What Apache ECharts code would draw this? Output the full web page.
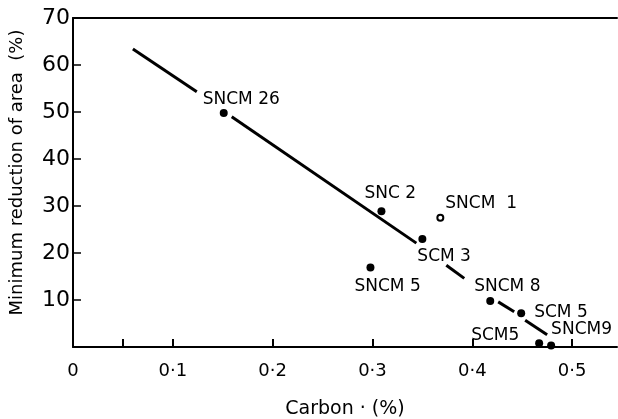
<!DOCTYPE html>
<html>
<head>
<meta charset="utf-8">
<script src="https://cdn.jsdelivr.net/npm/echarts@6/dist/echarts.min.js"></script>
<style>html,body{margin:0;padding:0;background:#fff}#c{width:618px;height:419px}</style>
</head>
<body>
<div id="c"></div>
<script>
// Steels: [carbon %, minimum reduction of area %]
const steelNames = ['SNCM 26', 'SNC 2', 'SNCM  1', 'SCM 3', 'SNCM 5', 'SNCM 8', 'SCM 5', 'SCM5', 'SNCM9'];
const carbon = [0.151, 0.309, 0.368, 0.350, 0.298, 0.418, 0.449, 0.467, 0.479];
const reduction = [49.8, 28.9, 27.5, 23.0, 16.9, 9.8, 7.2, 0.8, 0.3];
const openMarker = [false, false, true, false, false, false, false, false, false];
// label offsets relative to point (px)
const labelDx = [-21, -17, 6, -5, -16, -16, 13, -68, 0];
const labelDy = [-13, -18, -13, 18, 19, -14, -1, -8, -16];

// trend line, drawn in broken segments
const trendSegments = [
  [[0.060, 63.4], [0.124, 54.3]],
  [[0.159, 49.0], [0.344, 22.1]],
  [[0.374, 17.4], [0.392, 14.6]],
  [[0.426, 9.6], [0.442, 7.5]],
  [[0.453, 5.7], [0.475, 2.6]]
];

const xTicks = [0, 0.1, 0.2, 0.3, 0.4, 0.5];
const xTickMarks = [0.05, 0.1, 0.2, 0.3, 0.4, 0.5];
const yTicks = [10, 20, 30, 40, 50, 60, 70];

const font = 'DejaVu Sans';
const chart = echarts.init(document.getElementById('c'));

const series = [];
trendSegments.forEach(seg => {
  series.push({
    type: 'line', data: seg, symbol: 'none', silent: true,
    lineStyle: {color: '#000', width: 3}, z: 2
  });
});
const SYM = 8;
series.push({
  type: 'scatter',
  z: 3,
  itemStyle: {opacity: 1},
  data: carbon.map((c, i) => ({
    value: [c, reduction[i]],
    symbol: openMarker[i] ? 'emptyCircle' : 'circle',
    symbolSize: openMarker[i] ? 6 : SYM,
    itemStyle: openMarker[i] ? {color: '#000', borderColor: '#000', borderWidth: 2, opacity: 1} : {color: '#000', opacity: 1},
    label: {
      show: true,
      formatter: steelNames[i],
      position: [labelDx[i] + (openMarker[i] ? 3 : SYM / 2), labelDy[i] + (openMarker[i] ? 3 : SYM / 2)],
      align: 'left', verticalAlign: 'middle',
      color: '#000', fontFamily: font, fontSize: 17
    }
  }))
});

chart.setOption({
  animation: false,
  backgroundColor: '#fff',
  grid: {left: 73, right: 1, top: 18, bottom: 72, containLabel: false, outerBoundsMode: 'none'},
  xAxis: [{
    type: 'value', min: 0, max: 0.545, interval: 0.1,
    name: 'Carbon · (%)', nameLocation: 'middle', nameGap: 53,
    nameTextStyle: {color: '#000', fontFamily: font, fontSize: 19},
    axisLine: {show: true, onZero: false, lineStyle: {color: '#000', width: 2}},
    axisTick: {show: true, inside: true, length: 8, lineStyle: {color: '#000', width: 2},
      customValues: xTickMarks},
    axisLabel: {color: '#000', fontFamily: font, fontSize: 18, margin: 15,
      customValues: xTicks,
      formatter: v => v === 0 ? '0' : v.toFixed(1).replace('.', '·')},
    splitLine: {show: false}
  }, {
    type: 'value', position: 'top', min: 0, max: 0.545,
    axisLine: {show: true, onZero: false, lineStyle: {color: '#000', width: 2}},
    axisTick: {show: false}, axisLabel: {show: false}, splitLine: {show: false}
  }],
  yAxis: {
    type: 'value', min: 0, max: 70, interval: 10,
    name: 'Minimum reduction of area  (%)', nameLocation: 'middle', nameGap: 47,
    nameTextStyle: {color: '#000', fontFamily: font, fontSize: 18, padding: [0, 0, 0, 20]},
    axisLine: {show: true, onZero: false, lineStyle: {color: '#000', width: 2}},
    axisTick: {show: true, inside: true, length: 8, lineStyle: {color: '#000', width: 1.5}},
    axisLabel: {color: '#000', fontFamily: font, fontSize: 22, margin: 3,
      customValues: yTicks, formatter: v => String(v)},
    splitLine: {show: false}
  },
  series: series
});
</script>
</body>
</html>
